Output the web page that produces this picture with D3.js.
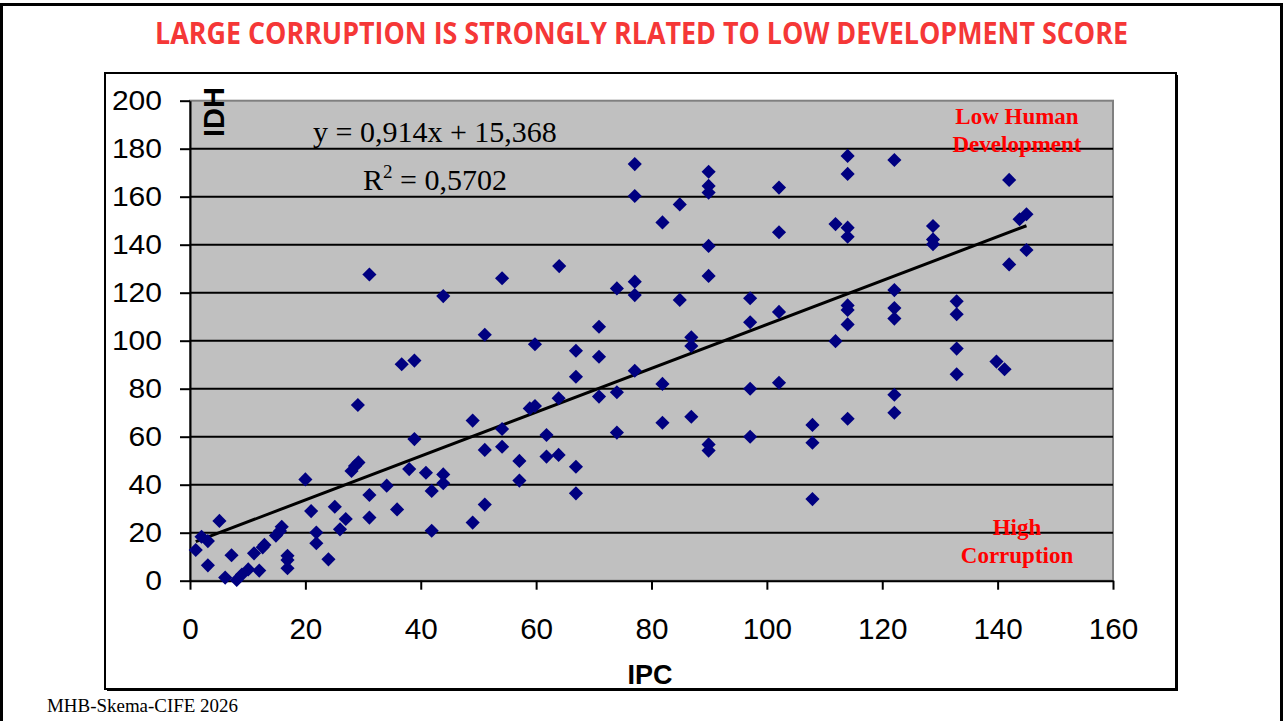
<!DOCTYPE html>
<html>
<head>
<meta charset="utf-8">
<script src="https://cdn.jsdelivr.net/npm/d3@7"></script>
<style>
  body { margin: 0; background: #fff; }
  svg { display: block; }
</style>
</head>
<body>
<div id="chart"></div>
<script>
// ---------- data ----------
var ipc = [1.0, 2.0, 3.1, 3.1, 5.1, 6.1, 7.2, 8.1, 9.0, 10.1, 11.1, 12.0, 12.6, 12.9, 14.9, 15.6, 15.9, 16.9, 16.9, 16.9,
  20.0, 21.0, 21.9, 21.9, 24.0, 25.1, 26.0, 27.0, 28.0, 28.6, 29.2, 29.1, 31.1, 31.1, 31.1, 34.1, 35.9, 36.7, 38.9, 38.9,
  38.0, 40.9, 41.9, 41.9, 43.9, 43.9, 43.9, 49.0, 49.0, 51.1, 51.1, 51.1, 54.1, 54.1, 54.1, 57.1, 57.1, 58.9, 59.8, 59.8,
  61.8, 61.8, 63.9, 63.9, 64.0, 66.9, 66.9, 66.9, 66.9, 70.9, 70.9, 70.9, 74.0, 74.0, 74.0, 77.1, 77.1, 77.1, 77.1, 77.1,
  81.9, 81.9, 81.9, 84.9, 84.9, 86.9, 86.9, 86.9, 89.9, 89.9, 89.9, 89.9, 89.9, 89.9, 89.9, 97.1, 97.1, 97.1, 97.1,
  102.1, 102.1, 102.1, 102.1, 107.9, 107.9, 107.9, 111.9, 111.9, 114.0, 114.0, 114.0, 114.0, 114.0, 114.0, 114.0, 114.0,
  122.1, 122.1, 122.1, 122.1, 122.1, 122.1, 128.8, 128.8, 128.8, 132.9, 132.9, 132.9, 132.9, 139.8, 141.2, 142.0, 142.0,
  143.8, 145.0, 145.0];
var idh = [12.8, 18.3, 16.5, 6.4, 24.9, 1.3, 10.6, 0.3, 2.6, 4.7, 11.4, 4.2, 13.9, 14.9, 18.8, 20.7, 22.5, 10.4, 8.6, 5.2,
  42.2, 29.0, 20.1, 15.6, 8.9, 30.8, 21.4, 25.7, 45.7, 47.8, 49.3, 73.2, 127.6, 35.7, 26.3, 39.6, 29.7, 90.2, 91.7, 59.0,
  46.5, 45.0, 37.4, 20.8, 118.6, 44.3, 40.6, 66.7, 24.2, 102.5, 54.5, 31.7, 126.0, 63.2, 55.8, 49.9, 41.7, 71.8, 72.8, 98.5,
  60.7, 51.7, 52.4, 76.0, 131.1, 95.8, 85.0, 47.5, 36.4, 105.8, 93.3, 76.7, 121.8, 78.5, 61.7, 173.6, 160.3, 124.6, 119.0, 87.5,
  149.3, 82.0, 65.8, 156.8, 117.0, 101.4, 97.8, 68.3, 170.4, 164.5, 161.7, 139.5, 127.0, 56.8, 54.2, 117.7, 107.7, 80.0, 60.0,
  163.8, 145.2, 112.0, 82.5, 64.9, 57.5, 34.0, 148.6, 99.8, 177.0, 169.5, 147.1, 143.3, 114.7, 112.8, 106.8, 67.5,
  175.3, 121.1, 113.6, 109.2, 77.5, 70.0, 147.8, 142.2, 140.2, 116.4, 111.0, 96.7, 86.0, 91.3, 88.1, 167.0, 131.8,
  150.6, 152.7, 137.8];

var xTicks = [0, 20, 40, 60, 80, 100, 120, 140, 160];
var yTicks = [0, 20, 40, 60, 80, 100, 120, 140, 160, 180, 200];

// trend line from the chart's own equation
var slope = 0.914, intercept = 15.368;
var eqText = "y = 0,914x + 15,368";
var r2Text = "0,5702";

var titleText = "LARGE CORRUPTION IS STRONGLY RLATED TO LOW DEVELOPMENT SCORE";
var footerText = "MHB-Skema-CIFE 2026";

var W = 1283, H = 721;
var plot = {left: 190, right: 1113, top: 100.7, bottom: 580.7};

var svg = d3.select("#chart").append("svg")
    .attr("width", W)
    .attr("height", H);

// slide frame
svg.append("rect")
    .attr("x", 1.5).attr("y", 4.5)
    .attr("width", W - 3).attr("height", H + 10)
    .style("fill", "none").style("stroke", "#000").style("stroke-width", 3);

// title
svg.append("text")
    .attr("x", 641.5).attr("y", 44)
    .attr("text-anchor", "middle")
    .attr("textLength", 973).attr("lengthAdjust", "spacingAndGlyphs")
    .style("font", "bold 30px 'Liberation Sans Narrow', 'Open Sans', sans-serif")
    .style("fill", "#f53737")
    .text(titleText);

// chart box with a small shadow
svg.append("rect")
    .attr("x", 107).attr("y", 75).attr("width", 1071).attr("height", 616)
    .style("fill", "#000");
svg.append("rect")
    .attr("x", 105).attr("y", 73).attr("width", 1071).attr("height", 616)
    .style("fill", "#fff").style("stroke", "#000").style("stroke-width", 2);

var x = d3.scaleLinear().domain([0, 160]).range([plot.left, plot.right]);
var y = d3.scaleLinear().domain([0, 200]).range([plot.bottom, plot.top]);

// plot area
svg.append("rect")
    .attr("x", plot.left).attr("y", plot.top)
    .attr("width", plot.right - plot.left).attr("height", plot.bottom - plot.top)
    .style("fill", "#c0c0c0").style("stroke", "#808080").style("stroke-width", 2);

// gridlines
svg.append("g").selectAll("line")
    .data(yTicks.filter(function(d){ return d > 0 && d < 200; }))
    .enter().append("line")
    .attr("x1", plot.left).attr("x2", plot.right)
    .attr("y1", function(d){ return y(d); })
    .attr("y2", function(d){ return y(d); })
    .style("stroke", "#000").style("stroke-width", 2);

// axes
var xAxis = svg.append("g")
    .attr("transform", "translate(0," + plot.bottom + ")")
    .call(d3.axisBottom(x).tickValues(xTicks).tickSize(9).tickPadding(28.5).tickSizeOuter(0));
var yAxis = svg.append("g")
    .attr("transform", "translate(" + plot.left + ",0)")
    .call(d3.axisLeft(y).tickValues(yTicks).tickSize(10).tickPadding(18).tickSizeOuter(0));

[xAxis, yAxis].forEach(function(a){
    a.select(".domain").style("stroke", "#000").style("stroke-width", 2);
    a.selectAll(".tick line").style("stroke", "#000").style("stroke-width", 2);
    a.selectAll(".tick text")
        .style("font-family", "Arial, 'Liberation Sans', sans-serif")
        .style("fill", "#000")
        .attr("lengthAdjust", "spacingAndGlyphs");
});
xAxis.selectAll(".tick text")
    .style("font-size", "30px")
    .attr("textLength", function(d){ return String(d).length * 16.5; });
yAxis.selectAll(".tick text")
    .style("font-size", "28px")
    .attr("textLength", function(d){ return String(d).length * 16.7; });

// trend line
var xMin = d3.min(ipc), xMax = d3.max(ipc);
var line = d3.line()
    .x(function(d){ return x(d); })
    .y(function(d){ return y(slope * d + intercept); });
svg.append("path")
    .datum([xMin, xMax])
    .attr("d", line)
    .style("fill", "none").style("stroke", "#000").style("stroke-width", 3);

// points
var diamond = d3.symbol().type(d3.symbolSquare).size(100);
svg.append("g").selectAll("path")
    .data(d3.range(ipc.length))
    .enter().append("path")
    .attr("d", diamond)
    .attr("transform", function(i){
        return "translate(" + x(ipc[i]) + "," + y(idh[i]) + ") rotate(45)";
    })
    .style("fill", "#000080");

// axis titles
svg.append("text")
    .attr("transform", "translate(224,112) rotate(-90)")
    .attr("text-anchor", "middle")
    .attr("textLength", 50).attr("lengthAdjust", "spacingAndGlyphs")
    .style("font", "bold 30px Arial, 'Liberation Sans', sans-serif")
    .text("IDH");

svg.append("text")
    .attr("x", 650).attr("y", 684)
    .attr("text-anchor", "middle")
    .attr("textLength", 45).attr("lengthAdjust", "spacingAndGlyphs")
    .style("font", "bold 28px Arial, 'Liberation Sans', sans-serif")
    .text("IPC");

// regression labels
svg.append("text")
    .attr("x", 313).attr("y", 142)
    .style("font", "30px 'Times New Roman', 'Liberation Serif', serif")
    .text(eqText);

var r2 = svg.append("text")
    .attr("x", 363).attr("y", 190)
    .style("font", "30px 'Times New Roman', 'Liberation Serif', serif");
r2.append("tspan").text("R");
r2.append("tspan").attr("dy", -12).style("font-size", "19px").text("2");
r2.append("tspan").attr("dy", 12).text(" = " + r2Text);

// corner notes
var noteStyle = "bold 23px 'Times New Roman', 'Liberation Serif', serif";
[["Low Human", 124], ["Development", 152], ["High", 535], ["Corruption", 563]].forEach(function(n){
    svg.append("text")
        .attr("x", 1017).attr("y", n[1])
        .attr("text-anchor", "middle")
        .style("font", noteStyle)
        .style("fill", "#ff0000")
        .text(n[0]);
});

// footer
svg.append("text")
    .attr("x", 47).attr("y", 712)
    .attr("textLength", 191).attr("lengthAdjust", "spacingAndGlyphs")
    .style("font", "18px 'Times New Roman', 'Liberation Serif', serif")
    .text(footerText);
</script>
</body>
</html>
